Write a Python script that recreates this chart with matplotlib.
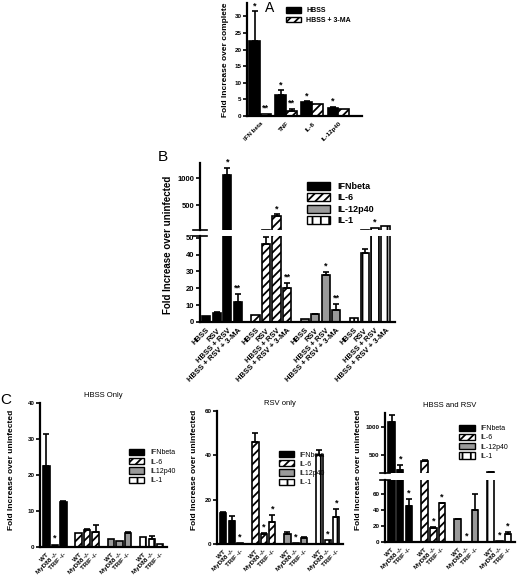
import numpy as np
import matplotlib
matplotlib.use("Agg")
import matplotlib.pyplot as plt
from matplotlib.patches import Patch

plt.rcParams['font.family'] = ['Liberation Sans', 'DejaVu Sans']
plt.rcParams['hatch.linewidth'] = 1.3

W, H = 520, 577

# ---- data ----
a_cats = ["IFN beta", "TNF", "IL-6", "IL-12p40"]
a_hbss = [22.5, 6.2, 4.2, 2.5]
a_hbss_err = [9.0, 1.5, 0.2, 0.3]
a_3ma = [0.6, 1.6, 3.5, 2.2]
a_3ma_err = [0.0, 0.6, 0.0, 0.0]
a_stars_hbss = ["*", "*", "*", "*"]
a_stars_3ma = ["**", "**", "", ""]

b_conds = ["HBSS", "RSV", "HBSS + RSV", "HBSS + RSV + 3-MA"]
b_ifn = [3.5, 5.5, 1055, 12]
b_ifn_err = [0, 0.3, 130, 4.5]
b_il6 = [4, 46, 297, 20]
b_il6_err = [0, 4.5, 30, 3]
b_il12 = [2, 4.5, 28, 7]
b_il12_err = [0, 0.5, 1.5, 3.5]
b_il1 = [2.5, 41, 80, 110]
b_il1_err = [0, 2.5, 0, 0]
b_stars = [["", "", "*", "**"], ["", "", "*", "**"], ["", "", "*", "**"], ["", "", "*", ""]]

c_geno = ["WT", "MyD88 -/-", "TRIF -/-"]
c1_vals = [[22.5, 0.6, 12.5], [4.0, 4.8, 4.2], [2.2, 1.8, 3.8], [2.8, 2.2, 0.8]]
c1_errs = [[9.0, 0, 0.4], [0, 0.3, 1.8], [0, 0, 0.3], [0, 0.8, 0]]
c1_stars = [["", "*", ""], ["", "", ""], ["", "", ""], ["", "", ""]]

c2_vals = [[14, 10.5, 0.5], [46, 4.5, 9.8], [4.5, 0.4, 2.8], [40, 1.8, 12]]
c2_errs = [[0.5, 2.0, 0], [4.0, 0.5, 3.5], [0.8, 0, 0.3], [2.5, 0, 4.0]]
c2_stars = [["", "", "*"], ["", "*", "*"], ["", "*", ""], ["", "*", "*"]]

c3_vals = [[1090, 230, 45], [390, 18, 48], [28, 0.5, 40], [190, 1.0, 10]]
c3_errs = [[125, 90, 9], [15, 1, 1], [1, 0, 20], [5, 0, 3]]
c3_stars = [["", "*", "*"], ["", "*", "*"], ["", "*", ""], ["", "*", "*"]]

cyto_b = ["IFNbeta", "IL-6", "IL-12p40", "IL-1"]
cyto_c = ["IFNbeta", "IL-6", "IL12p40", "IL-1"]

styles = [
    dict(facecolor="black", edgecolor="black"),
    dict(facecolor="white", edgecolor="black", hatch="////"),
    dict(facecolor="#9a9a9a", edgecolor="black"),
    dict(facecolor="white", edgecolor="black", hatch="||"),
]


def rect(l, t, r, b):
    return [l / W, 1 - b / H, (r - l) / W, (b - t) / H]


def style_ax(ax, fs=5):
    for s in ["top", "right"]:
        ax.spines[s].set_visible(False)
    for s in ["left", "bottom"]:
        ax.spines[s].set_linewidth(1.6)
    ax.tick_params(axis="y", labelsize=fs, width=1.2, length=3, pad=1)
    ax.tick_params(axis="x", length=0)
    for lab in ax.get_yticklabels():
        lab.set_fontweight("bold")


def bars(axes, xs, vals, errs, st, width):
    for ax in axes:
        ax.bar(xs, vals, width=width, linewidth=1.2, **st)
        y0, y1 = ax.get_ylim()
        for x, v, e in zip(xs, vals, errs):
            # only draw error bars that have a size and show in this axis
            if e <= 0 or v + e < y0 + (y1 - y0) * 0.02:
                continue
            ax.errorbar([x], [v], yerr=[[0], [e]], fmt="none",
                        ecolor="black", elinewidth=1.2, capsize=2, capthick=1.2)


def stars(lo, hi, xs, vals, errs, labels, off, lo_top=None, hi_off=None):
    for x, v, e, s in zip(xs, vals, errs, labels):
        if not s:
            continue
        y = v + e
        if lo_top is not None and y > lo_top:
            hi.text(x, y + hi_off, s, ha="center", va="bottom", fontsize=6.5, fontweight="bold")
        else:
            lo.text(x, y + off, s, ha="center", va="bottom", fontsize=6.5, fontweight="bold")


def break_marks(lo, hi):
    d = 0.012
    kw = dict(color="black", clip_on=False, lw=1.2)
    lo.plot([-d * 3, d * 3], [1, 1], transform=lo.transAxes, **kw)
    hi.plot([-d * 3, d * 3], [0, 0], transform=hi.transAxes, **kw)


fig = plt.figure(figsize=(W / 100, H / 100), dpi=100)

# ---- panel A ----
ax = fig.add_axes(rect(247, 3, 362, 116))
ax.set_ylim(0, 34)
xa = np.arange(len(a_cats)) * 1.0
bw = 0.42
bars([ax], xa - bw / 2, a_hbss, a_hbss_err, styles[0], bw)
bars([ax], xa + bw / 2, a_3ma, a_3ma_err, styles[1], bw)
stars(ax, None, xa - bw / 2, a_hbss, a_hbss_err, a_stars_hbss, 0.3)
stars(ax, None, xa + bw / 2, a_3ma, a_3ma_err, a_stars_3ma, 0.3)
ax.set_ylim(0, 34)
ax.set_xlim(-0.5, 3.9)
ax.set_yticks([0, 5, 10, 15, 20, 25, 30])
ax.set_xticks(xa)
ax.set_xticklabels(a_cats, rotation=45, ha="right", rotation_mode="anchor",
                   fontsize=4.5, fontweight="bold")
style_ax(ax, 4.5)
ax.set_ylabel("Fold Increase over complete", fontsize=6, fontweight="bold", labelpad=4)
ax.legend(handles=[Patch(label="HBSS", **styles[0]), Patch(label="HBSS + 3-MA", **styles[1])],
          loc="upper left", bbox_to_anchor=(0.3, 1.0), frameon=False,
          prop=dict(size=5, weight="bold"), handlelength=2.2, handleheight=0.9,
          labelspacing=0.3, borderaxespad=0.2)
fig.text(270 / W, 1 - 8 / H, "A", fontsize=10, ha="center", va="center")

# ---- panel B ----
lo = fig.add_axes(rect(200, 236, 395, 322))
hi = fig.add_axes(rect(200, 163, 395, 230), sharex=lo)
lo.set_ylim(0, 51)
hi.set_ylim(40, 1280)
b_vals = [b_ifn, b_il6, b_il12, b_il1]
b_errs = [b_ifn_err, b_il6_err, b_il12_err, b_il1_err]
xb_all = []
for g in range(4):
    xs = g * 4.7 + np.arange(4)
    xb_all.extend(xs)
    bars([lo, hi], xs, b_vals[g], b_errs[g], styles[g], 0.78)
    stars(lo, hi, xs, b_vals[g], b_errs[g], b_stars[g], 1.0, lo_top=50, hi_off=25)
lo.set_ylim(0, 51)
hi.set_ylim(40, 1280)
lo.set_xlim(-0.6, 18.0)
lo.set_yticks([0, 10, 20, 30, 40, 50])
hi.set_yticks([500, 1000])
lo.set_xticks(xb_all)
lo.set_xticklabels(b_conds * 4, rotation=45, ha="right", rotation_mode="anchor",
                   fontsize=5.5, fontweight="bold")
style_ax(lo, 5.5)
style_ax(hi, 5.5)
hi.spines["bottom"].set_visible(False)
hi.tick_params(axis="x", bottom=False, labelbottom=False)
break_marks(lo, hi)
hi.legend(handles=[Patch(label=c, **s) for c, s in zip(cyto_b, styles)],
          loc="upper left", bbox_to_anchor=(0.52, 0.8), frameon=False,
          prop=dict(size=6.5, weight="bold"), handlelength=2.6, handleheight=1.0,
          labelspacing=0.25, borderaxespad=0.2)
fig.text(168 / W, 1 - 245 / H, "Fold Increase over uninfected", rotation=90,
         fontsize=7, fontweight="bold", ha="center", va="center")
fig.text(163 / W, 1 - 157 / H, "B", fontsize=11, ha="center", va="center")


# ---- panel C ----
def panel_c(lo, hi, vals, errs, star_lab, title, lo_top, hi_off, fs_leg, leg_anchor, names):
    xall = []
    axes = [lo] if hi is None else [lo, hi]
    for g in range(4):
        xs = g * 3.8 + np.arange(3)
        xall.extend(xs)
        bars(axes, xs, vals[g], errs[g], styles[g], 0.75)
        stars(lo, hi, xs, vals[g], errs[g], star_lab[g], lo_top * 0.02 if lo_top else 0.5,
              lo_top=lo_top if hi is not None else None, hi_off=hi_off)
    lo.set_xlim(-0.75, 14.2)
    lo.set_xticks(xall)
    lo.set_xticklabels(c_geno * 4, rotation=45, ha="right", rotation_mode="anchor",
                       fontsize=4.5, fontweight="bold")
    style_ax(lo, 4.5)
    top = hi if hi is not None else lo
    if hi is not None:
        style_ax(hi, 4.5)
        hi.spines["bottom"].set_visible(False)
        hi.tick_params(axis="x", bottom=False, labelbottom=False)
        break_marks(lo, hi)
    top.set_title(title, fontsize=5.5, pad=4)
    top.legend(handles=[Patch(label=c, **s) for c, s in zip(names, styles)],
               loc="upper left", bbox_to_anchor=leg_anchor, frameon=False,
               prop=dict(size=fs_leg), handlelength=2.2, handleheight=1.0,
               labelspacing=0.25, borderaxespad=0.0)


c1 = fig.add_axes(rect(40, 403, 167, 547))
c1.set_ylim(0, 40)
c1.set_yticks([0, 10, 20, 30, 40])
panel_c(c1, None, c1_vals, c1_errs, c1_stars, "HBSS Only", None, 0, 5, (0.68, 0.7), cyto_c)
c1.set_ylim(0, 40)
fig.text(12 / W, 1 - 470 / H, "Fold Increase over uninfected", rotation=90,
         fontsize=6, fontweight="bold", ha="center", va="center")
fig.text(6 / W, 1 - 400 / H, "C", fontsize=11, ha="center", va="center")

c2 = fig.add_axes(rect(217, 411, 343, 544))
c2.set_ylim(0, 60)
c2.set_yticks([0, 20, 40, 60])
panel_c(c2, None, c2_vals, c2_errs, c2_stars, "RSV only", None, 0, 5, (0.47, 0.72), cyto_c)
c2.set_ylim(0, 60)
fig.text(194 / W, 1 - 470 / H, "Fold Increase over uninfected", rotation=90,
         fontsize=6, fontweight="bold", ha="center", va="center")

c3lo = fig.add_axes(rect(385, 480, 515, 542))
c3hi = fig.add_axes(rect(385, 413, 515, 473), sharex=c3lo)
c3lo.set_ylim(0, 77)
c3hi.set_ylim(170, 1250)
c3lo.set_yticks([0, 20, 40, 60])
c3hi.set_yticks([500, 1000])
panel_c(c3lo, c3hi, c3_vals, c3_errs, c3_stars, "HBSS and RSV", 77, 25, 5, (0.55, 0.85), cyto_b)
c3lo.set_ylim(0, 77)
c3hi.set_ylim(170, 1250)
fig.text(359 / W, 1 - 470 / H, "Fold Increase over uninfected", rotation=90,
         fontsize=6, fontweight="bold", ha="center", va="center")

fig.savefig("out.png", dpi=100)
